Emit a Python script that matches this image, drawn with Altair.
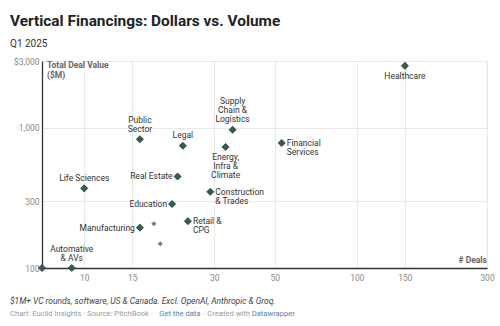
import altair as alt
import pandas as pd

# ---- data ----
names = ["Healthcare", "Supply Chain & Logistics", "Energy, Infra & Climate", "Public Sector",
         "Legal", "Real Estate", "Life Sciences", "Construction & Trades", "Financial Services",
         "Education", "Retail & CPG", "Manufacturing", "Other A", "Other B",
         "Automative & AVs", "Other C"]
label_text = ["Healthcare", "Supply\nChain &\nLogistics", "Energy,\nInfra &\nClimate", "Public\nSector",
              "Legal", "Real Estate", "Life Sciences", "Construction\n& Trades", "Financial\nServices",
              "Education", "Retail &\nCPG", "Manufacturing", "", "",
              "Automative\n& AVs", ""]
label_side = ["bottom", "top", "bottom", "top", "top", "left", "top", "right", "right",
              "left", "right", "left", "none", "none", "top", "none"]
group = ["main"] * 12 + ["minor", "minor"] + ["main", "main"]
deals = [150, 35, 33, 16, 23, 22, 10, 29, 53, 21, 24, 16, 18, 19, 9, 7]
deal_value = [2770, 970, 730, 830, 745, 450, 370, 350, 780, 286, 216, 194, 207, 149, 100, 100]

x_ticks = [10, 15, 30, 50, 100, 150, 300]
y_ticks = [100, 300, 1000, 3000]

title = "Vertical Financings: Dollars vs. Volume"
subtitle = "Q1 2025"
note = "$1M+ VC rounds, software, US & Canada. Excl. OpenAI, Anthropic & Groq."
credit_parts = ["Chart: Euclid Insights · Source: PitchBook ·", "Get the data", "· Created with", "Datawrapper"]

df = pd.DataFrame({"name": names, "label": label_text, "side": label_side, "group": group,
                   "deals": deals, "value": deal_value})

FONT = "Roboto"
LH = 9
x_enc = alt.X("deals:Q", scale=alt.Scale(type="log", domain=[7, 300], nice=False),
              axis=alt.Axis(values=x_ticks, title=None, grid=True, ticks=False, labelColor="#888",
                            labelFontSize=8.5, labelPadding=5, domainColor="#333", domainWidth=1.3,
                            gridColor="#e9e9e9", labelFlush=False, labelOverlap=False, format="d"))
y_enc = alt.Y("value:Q", scale=alt.Scale(type="log", domain=[100, 3000], nice=False),
              axis=alt.Axis(values=y_ticks, title=None, grid=True, ticks=False, labelColor="#888",
                            labelFontSize=8.5, labelPadding=3, domainColor="#333", domainWidth=1.3,
                            gridColor="#e9e9e9", labelOverlap=False,
                            labelExpr="datum.value == 3000 ? '$3,000' : format(datum.value, ',')"))

base = alt.Chart(df).transform_calculate(nlines="split(datum.label, '\\n').length")

points = alt.Chart(df).mark_point(shape="diamond", filled=True, opacity=1).encode(
    x=x_enc, y=y_enc,
    color=alt.Color("group:N", scale=alt.Scale(domain=["main", "minor"], range=["#355e50", "#5f8878"]), legend=None),
    size=alt.Size("group:N", scale=alt.Scale(domain=["main", "minor"], range=[50, 26]), legend=None),
    stroke=alt.value("#1f3a31"),
    strokeWidth=alt.condition("datum.group == 'main'", alt.value(0.8), alt.value(0)),
)

lab_common = dict(font=FONT, fontSize=8.5, color="#333", lineBreak="\n", lineHeight=LH)
enc = dict(x="deals:Q", y="value:Q", text="label:N")

lab_top = [
    base.transform_filter(f"datum.side == 'top' && datum.nlines == {n}").mark_text(
        align="center", baseline="bottom", dy=-5.4 - (n - 1) * LH, **lab_common).encode(**enc)
    for n in (1, 2, 3)
]
lab_bottom = base.transform_filter("datum.side == 'bottom'").mark_text(
    align="center", baseline="top", dy=5.8, **lab_common).encode(**enc)
lab_right = base.transform_filter("datum.side == 'right'").mark_text(
    align="left", baseline="top", dx=5, dy=-3.8, **lab_common).encode(**enc)
lab_left = base.transform_filter("datum.side == 'left'").mark_text(
    align="right", baseline="middle", dx=-5, **lab_common).encode(**enc)

one = pd.DataFrame({"k": [0]})


def txt(text, x, y, **kw):
    return alt.Chart(one).mark_text(text=text, font=FONT, **kw).encode(x=alt.value(x), y=alt.value(y))


annotations = [
    txt(title, -32, -35, align="left", baseline="alphabetic", fontSize=15.4, fontWeight="bold", color="#222"),
    txt(subtitle, -32, -14.5, align="left", baseline="alphabetic", fontSize=10, color="#333"),
    txt("Total Deal Value\n($M)", 5, 0, align="left", baseline="top", fontSize=8.5,
        fontWeight="bold", color="#666", lineBreak="\n", lineHeight=10),
    txt("# Deals", 445, 199, align="right", baseline="middle", fontSize=8.5, fontWeight="bold", color="#666"),
    txt(note, -32, 243, align="left", baseline="alphabetic", fontSize=8.45, fontStyle="italic", color="#444"),
    txt(credit_parts[0], -32, 253.3, align="left", baseline="middle", fontSize=7.6, color="#999"),
    txt(credit_parts[1], 117.3, 253.3, align="left", baseline="middle", fontSize=7.6, color="#4f82bd"),
    txt(credit_parts[2], 161.5, 253.3, align="left", baseline="middle", fontSize=7.6, color="#999"),
    txt(credit_parts[3], 209.7, 253.3, align="left", baseline="middle", fontSize=7.6, color="#4f82bd"),
]

chart = alt.layer(points, *lab_top, lab_bottom, lab_right, lab_left, *annotations).properties(
    width=445, height=207,
    autosize=alt.AutoSizeParams(type="none"),
    padding={"left": 42, "top": 61, "right": 13, "bottom": 58},
    background="white",
).configure_view(strokeWidth=0).configure_axis(labelFont=FONT)

chart.save("out.html", embed_options={"renderer": "svg", "actions": False})
